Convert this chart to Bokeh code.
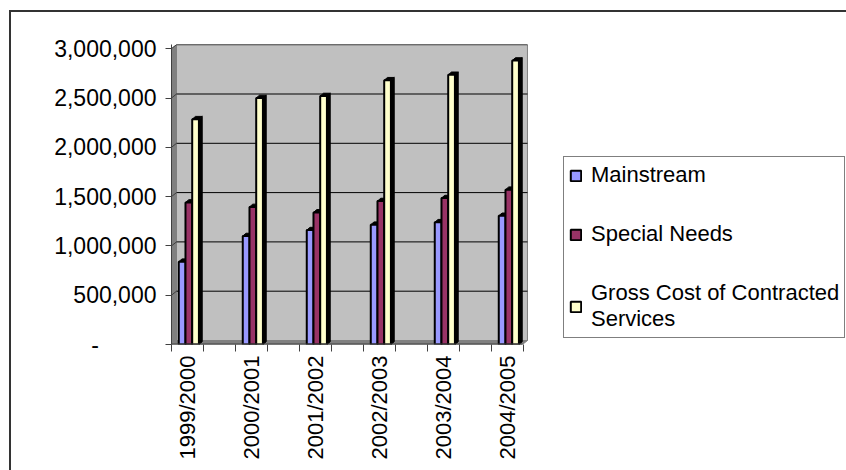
from bokeh.plotting import figure
from bokeh.models import (Range1d, FixedTicker, NumeralTickFormatter, Legend, LegendItem)
from bokeh.layouts import column
from bokeh.embed import file_html
from bokeh.resources import INLINE
import math

# ---- data ----
categories = ["1999/2000", "2000/2001", "2001/2002", "2002/2003", "2003/2004", "2004/2005"]
series_names = ["Mainstream", "Special Needs", "Gross Cost of Contracted\nServices"]
mainstream = [840000, 1100000, 1160000, 1215000, 1240000, 1305000]
special_needs = [1440000, 1395000, 1340000, 1455000, 1485000, 1570000]
gross_cost = [2285000, 2500000, 2520000, 2680000, 2735000, 2880000]
y_ticks = [0, 500000, 1000000, 1500000, 2000000, 2500000, 3000000]

colors = ["#9999FF", "#993366", "#FFFFCC"]
FONT = "Liberation Sans"

# ---- geometry (pixel-based layout converted to data units) ----
px_per_cat = 64.0
px_per_val = 98.6 / 1_000_000
x_start = -0.245
x_chart_end = 5.317                      # right edge of the 3D chart box
x_range_end = x_start + 675 / px_per_cat  # frame continues under the legend
y_start, y_end = 0, 300 / px_per_val
depth_x = 5 / px_per_cat      # wall depth
depth_y = 4 / px_per_val
bar_w = 0.105
bar_dx = 3.3 / px_per_cat     # bar depth
bar_dy = 2.8 / px_per_val
offsets = [-0.079, 0.026, 0.131]

p = figure(width=835, height=458, output_backend="svg", toolbar_location=None,
           x_range=Range1d(x_start, x_range_end), y_range=Range1d(y_start, y_end),
           min_border_left=160, min_border_right=0,
           min_border_top=32, min_border_bottom=458 - 32 - 300)
p.outline_line_color = None
p.xgrid.visible = False
p.ygrid.visible = False
p.background_fill_color = "white"
p.border_fill_color = "white"

wall_gray = "#C0C0C0"
dark_gray = "#808080"

# back wall
p.quad(left=[x_start + depth_x], right=[x_chart_end], bottom=[depth_y], top=[y_end],
       fill_color=wall_gray, line_color=dark_gray, line_width=1)
# side wall
p.patch(x=[x_start, x_start, x_start + depth_x, x_start + depth_x],
        y=[0, y_ticks[-1], y_ticks[-1] + depth_y, depth_y],
        fill_color=dark_gray, line_color=dark_gray)
# floor
p.patch(x=[x_start, x_chart_end - depth_x, x_chart_end, x_start + depth_x],
        y=[0, 0, depth_y, depth_y], fill_color=dark_gray, line_color=dark_gray)
# gridlines on wall + side wall diagonals
gy = [t + depth_y for t in y_ticks[1:]]
p.segment(x0=[x_start + depth_x] * len(gy), x1=[x_chart_end] * len(gy), y0=gy, y1=gy,
          line_color="black", line_width=1)
p.segment(x0=[x_start] * len(gy), x1=[x_start + depth_x] * len(gy),
          y0=y_ticks[1:], y1=gy, line_color="#404040", line_width=1)

# bars
all_series = [mainstream, special_needs, gross_cost]
legend_items = []
for s, (vals, col, name) in enumerate(zip(all_series, colors, series_names)):
    xs_c = [i + offsets[s] for i in range(len(categories))]
    lefts = [x - bar_w / 2 for x in xs_c]
    rights = [x + bar_w / 2 for x in xs_c]
    side_xs = [[r, r + bar_dx, r + bar_dx, r] for r in rights]
    side_ys = [[0, bar_dy, v + bar_dy, v] for v in vals]
    top_xs = [[l, r, r + bar_dx, l + bar_dx] for l, r in zip(lefts, rights)]
    top_ys = [[v, v, v + bar_dy, v + bar_dy] for v in vals]
    p.patches(xs=side_xs, ys=side_ys, fill_color="black", line_color="black", line_width=1)
    p.patches(xs=top_xs, ys=top_ys, fill_color="black", line_color="black", line_width=1)
    r = p.vbar(x=xs_c, width=bar_w, bottom=0, top=vals, fill_color=col,
               line_color="black", line_width=2)
    legend_items.append(LegendItem(label=name, renderers=[r]))

# x axis line only under the chart box (drawn as a glyph)
p.segment(x0=[x_start], x1=[x_chart_end - depth_x], y0=[0], y1=[0],
          line_color="#404040", line_width=2)

# axes
nb = "\u00a0"
yax = p.yaxis[0]
yax.ticker = FixedTicker(ticks=y_ticks, minor_ticks=[])
yax.formatter = NumeralTickFormatter(format="0,0")
yax.major_label_overrides = {0: "-" + nb * 9}
yax.major_tick_out = 6
yax.major_tick_in = 0
yax.minor_tick_out = 0
yax.axis_line_color = "#404040"
yax.major_tick_line_color = "#404040"
yax.major_label_text_font = FONT
yax.major_label_text_font_size = "23px"
yax.major_label_text_color = "black"
yax.major_label_standoff = 9

xax = p.xaxis[0]
half_ticks = [x_start + 0.5 * k for k in range(12)]
xax.ticker = FixedTicker(ticks=list(range(len(categories))), minor_ticks=half_ticks)
xax.major_label_overrides = {i: c for i, c in enumerate(categories)}
xax.major_label_orientation = math.pi / 2
xax.major_tick_out = 0
xax.major_tick_in = 0
xax.minor_tick_out = 7
xax.minor_tick_in = 0
xax.axis_line_color = None
xax.minor_tick_line_color = "#404040"
xax.major_label_text_font = FONT
xax.major_label_text_font_size = "22px"
xax.major_label_text_color = "black"
xax.major_label_standoff = 4

legend = Legend(items=legend_items, location=(392, 6))
legend.label_text_font = FONT
legend.label_text_font_size = "22px"
legend.label_text_color = "black"
legend.glyph_width = 13
legend.glyph_height = 13
legend.label_standoff = 9
legend.label_height = 22
legend.spacing = 33
legend.padding = 5
legend.margin = 0
legend.border_line_color = "black"
legend.border_line_width = 1
legend.background_fill_color = "white"
legend.background_fill_alpha = 1
p.add_layout(legend, "center")

layout = column(p, styles={"margin-left": "9px", "margin-top": "10px",
                           "border-left": "2px solid #333333",
                           "border-top": "2px solid #333333"})

open("out.html", "w").write(file_html(layout, INLINE))
